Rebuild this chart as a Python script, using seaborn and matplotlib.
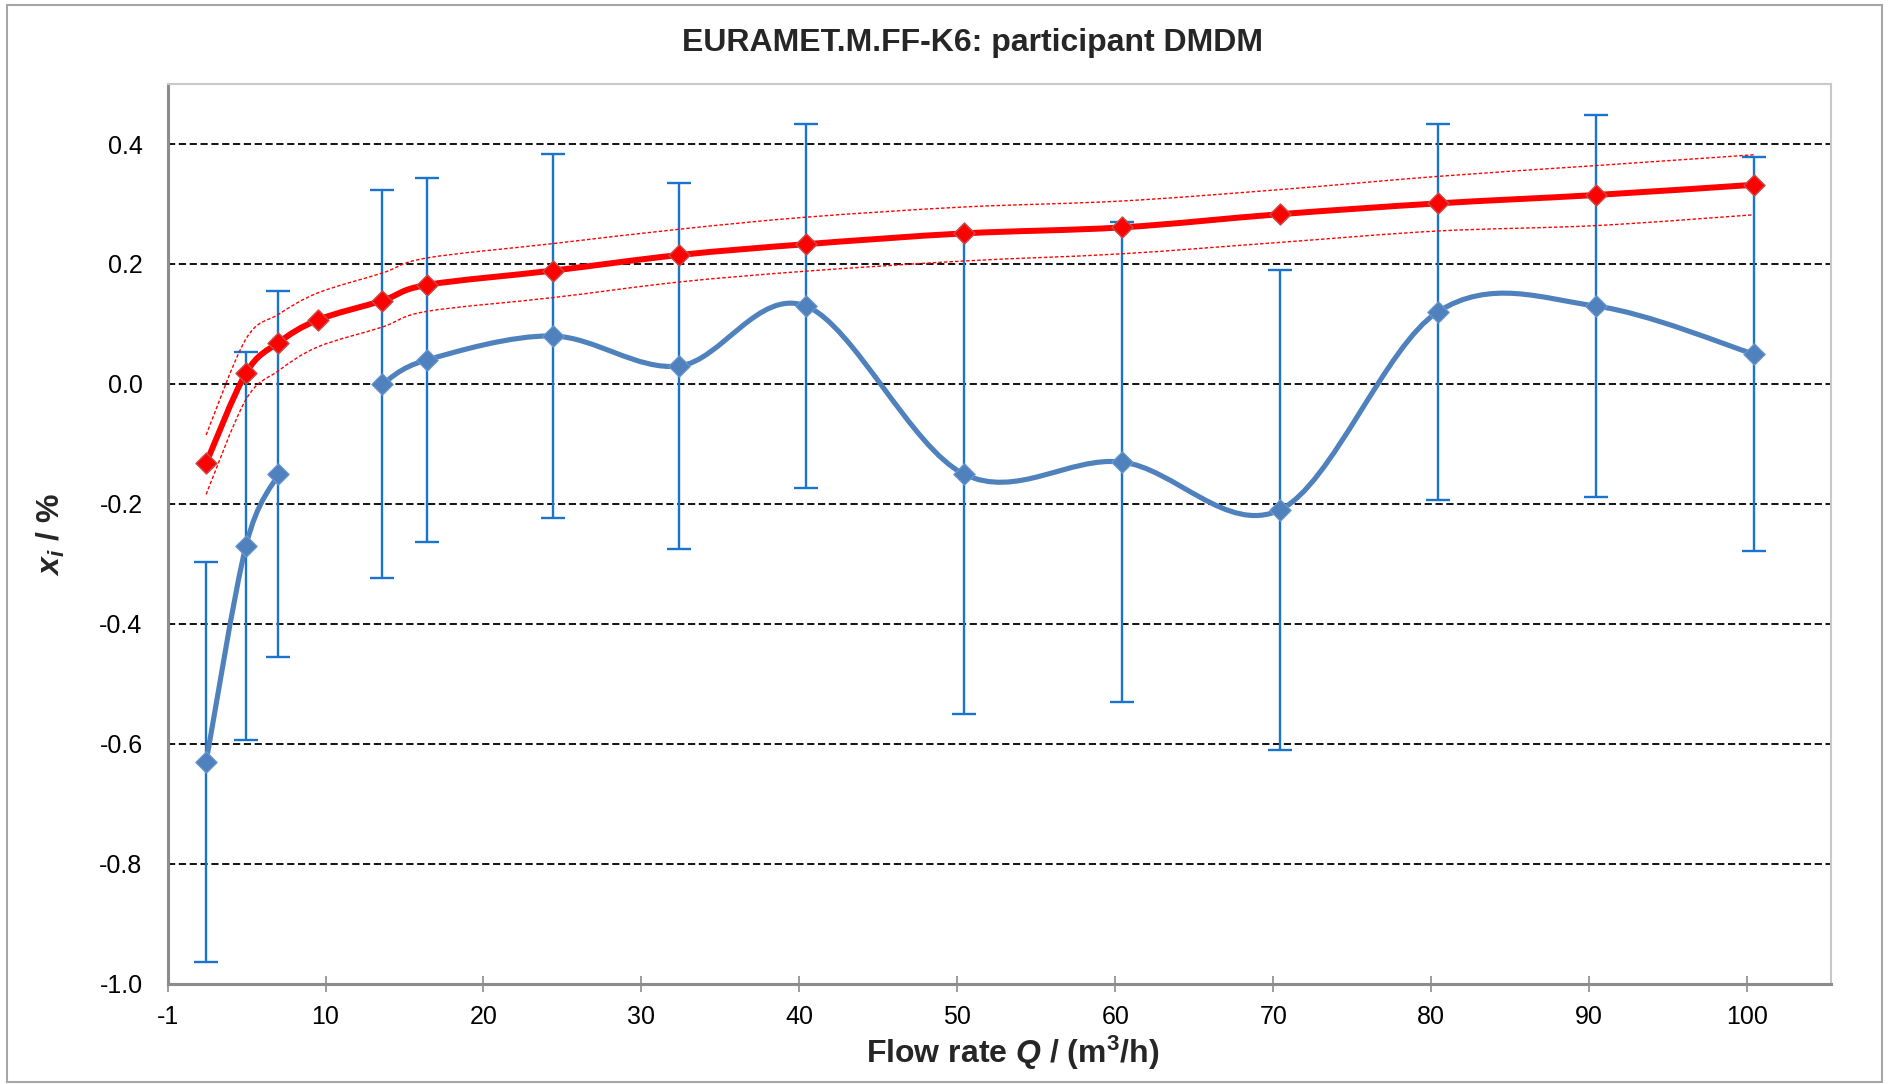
import numpy as np
import matplotlib
matplotlib.use("Agg")
import matplotlib.pyplot as plt
import seaborn as sns
from matplotlib.path import Path
from matplotlib.patches import PathPatch, Rectangle
from matplotlib.ticker import FormatStrFormatter

# participant results (blue) with expanded uncertainty; no result at 9.5 m3/h
q_lab = [2.44, 4.96, 7.02, 9.53, 13.6, 16.4, 24.4, 32.4, 40.4, 50.4, 60.4, 70.4, 80.4, 90.4, 100.4]
x_lab = [-0.63, -0.27, -0.15, np.nan, 0.00, 0.04, 0.08, 0.03, 0.13, -0.15, -0.13, -0.21, 0.12, 0.13, 0.05]
u_lab = [0.333, 0.323, 0.305, np.nan, 0.324, 0.304, 0.304, 0.305, 0.304, 0.40, 0.40, 0.40, 0.313, 0.319, 0.329]

# reference curve (red) and its uncertainty band
q_ref = [2.44, 4.96, 7.02, 9.53, 13.6, 16.4, 24.4, 32.4, 40.4, 50.4, 60.4, 70.4, 80.4, 90.4, 100.4]
x_ref = [-0.132, 0.018, 0.069, 0.107, 0.139, 0.165, 0.189, 0.215, 0.233, 0.251, 0.261, 0.283, 0.301, 0.315, 0.332]
x_ref_hi = [-0.085, 0.075, 0.116, 0.152, 0.185, 0.210, 0.234, 0.258, 0.278, 0.295, 0.305, 0.324, 0.346, 0.364, 0.382]
x_ref_lo = [-0.184, -0.026, 0.022, 0.062, 0.095, 0.121, 0.144, 0.170, 0.188, 0.205, 0.217, 0.236, 0.255, 0.264, 0.282]

x_ticks = [0, 10, 20, 30, 40, 50, 60, 70, 80, 90, 100]
x_tick_labels = ["-1", "10", "20", "30", "40", "50", "60", "70", "80", "90", "100"]
y_ticks = [-1.0, -0.8, -0.6, -0.4, -0.2, 0.0, 0.2, 0.4]

sns.set_theme(style="white")
plt.rcParams["font.family"] = ["Liberation Sans", "DejaVu Sans"]
plt.rcParams["mathtext.fontset"] = "custom"
plt.rcParams["mathtext.rm"] = "Liberation Sans"
plt.rcParams["mathtext.it"] = "Liberation Sans:italic"
plt.rcParams["mathtext.bf"] = "Liberation Sans:bold"
plt.rcParams["mathtext.bfit"] = "Liberation Sans:italic:bold"
plt.rcParams["axes.unicode_minus"] = False


def smooth_paths(xs, ys):
    # Excel-like smoothed line: cubic Bezier through the points, broken at gaps
    xs = np.asarray(xs, float)
    ys = np.asarray(ys, float)
    ok = ~np.isnan(ys)
    runs, cur = [], []
    for i in range(len(xs)):
        if ok[i]:
            cur.append((xs[i], ys[i]))
        elif cur:
            runs.append(cur)
            cur = []
    if cur:
        runs.append(cur)
    paths = []
    for run in runs:
        pts = np.array(run)
        n = len(pts)
        verts = [pts[0]]
        codes = [Path.MOVETO]
        for i in range(n - 1):
            p0 = pts[i - 1] if i > 0 else pts[i]
            p1 = pts[i]
            p2 = pts[i + 1]
            p3 = pts[i + 2] if i + 2 < n else pts[i + 1]
            verts += [p1 + (p2 - p0) / 6, p2 - (p3 - p1) / 6, p2]
            codes += [Path.CURVE4] * 3
        paths.append(Path(verts, codes))
    return paths


fig = plt.figure(figsize=(18.89, 10.84), dpi=100)
ax = fig.add_axes([0.0887, 0.0923, 0.8806, 0.8302])

# dashed horizontal grid
for y in y_ticks[1:]:
    ax.axhline(y, color="black", lw=1.3, ls=(0, (4, 2)), zorder=1)

# participant: error bars, smooth line, markers
ax.errorbar(q_lab, x_lab, yerr=u_lab, fmt="none", ecolor="#1874CD",
            elinewidth=1.7, capsize=8.5, capthick=1.7, zorder=3)
for p in smooth_paths(q_lab, x_lab):
    ax.add_patch(PathPatch(p, fill=False, edgecolor="#4F81BD", lw=3.7,
                           capstyle="round", zorder=4))
sns.scatterplot(x=q_lab, y=x_lab, marker="D", s=120, color="#4F81BD",
                edgecolor="#6b9ad3", linewidth=0.8, ax=ax, zorder=5)

# reference value with uncertainty band
for band in (x_ref_hi, x_ref_lo):
    for p in smooth_paths(q_ref, band):
        ax.add_patch(PathPatch(p, fill=False, edgecolor="#FF0000", lw=1.0,
                               ls=(0, (2.5, 1.5)), zorder=6))
for p in smooth_paths(q_ref, x_ref):
    ax.add_patch(PathPatch(p, fill=False, edgecolor="#FF0000", lw=4.3, zorder=6))
sns.scatterplot(x=q_ref, y=x_ref, marker="D", s=115, color="#FF0000",
                edgecolor="#c0504d", linewidth=1.0, ax=ax, zorder=7)

ax.set_xlim(0, 105.3)
ax.set_ylim(-1.0, 0.5)
ax.set_xticks(x_ticks)
ax.set_xticklabels(x_tick_labels)
ax.set_yticks(y_ticks)
ax.yaxis.set_major_formatter(FormatStrFormatter("%.1f"))
ax.tick_params(axis="y", length=0, pad=18, labelsize=18, labelcolor="black")
ax.tick_params(axis="x", direction="inout", length=12, width=1.2, color="#8c8c8c",
               pad=9, labelsize=18, labelcolor="black", bottom=True)
ax.set_xlabel("")
ax.set_ylabel("")

for side in ("top", "right"):
    ax.spines[side].set_color("#c8c8c8")
    ax.spines[side].set_linewidth(1.5)
for side in ("left", "bottom"):
    ax.spines[side].set_color("#8c8c8c")
    ax.spines[side].set_linewidth(2.2)

fig.text(0.515, 0.960, "EURAMET.M.FF-K6: participant DMDM", ha="center", va="center",
         fontsize=23, fontweight="bold")
fig.text(0.536, 0.0286, r"Flow rate $\mathbfit{Q}$ / (m$^{\mathbf{3}}$/h)", ha="center",
         va="center", fontsize=23, fontweight="bold")
fig.text(0.0268, 0.507, r"$\mathbfit{x}_{\mathbfit{i}}$ / %", ha="center", va="center",
         rotation=90, fontsize=23, fontweight="bold")

fig.patches.append(Rectangle((0.0037, 0.002), 0.9926, 0.993, transform=fig.transFigure,
                             fill=False, edgecolor="#a6a6a6", lw=1.5))

fig.savefig("out.png", dpi=100)
